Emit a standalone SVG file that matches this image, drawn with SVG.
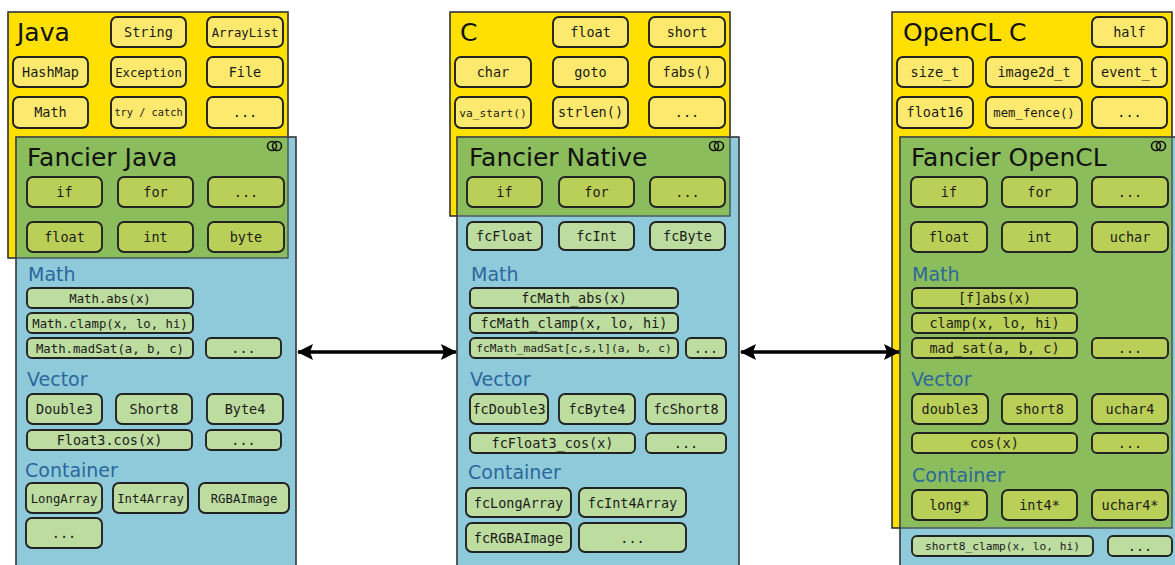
<svg xmlns="http://www.w3.org/2000/svg" width="1175" height="565" viewBox="0 0 1175 565">
  <defs>
    <style>
      .lang { fill: #ffe000; stroke: #3a3a3a; stroke-width: 1.2; }
      .fan { fill: #8fcadb; stroke: #3a4a50; stroke-width: 1.2; }
      .both { fill: #8bbd5c; }
      .edge { fill: none; stroke: #3a3a3a; stroke-width: 1.2; }
      .y rect { fill: #fde96d; }
      .g rect { fill: #bacf57; }
      .p rect { fill: #bddc9f; }
      .n rect { stroke: #222; stroke-width: 1.9; }
      .n text { font-family: "DejaVu Sans Mono", "Liberation Mono", monospace; font-size: 13.5px; fill: #1a1a1a; text-anchor: middle; }
      .n text.s1 { font-size: 12.3px; }
      .n text.s2 { font-size: 11.2px; }
      .n text.s3 { font-size: 10.3px; }
      .title { font-family: "DejaVu Sans", "Liberation Sans", sans-serif; font-size: 25px; fill: #111; }
      .sec { font-family: "DejaVu Sans", "Liberation Sans", sans-serif; font-size: 19px; fill: #2b679b; }
      .ring { fill: none; stroke: #111; stroke-width: 1.6; }
      .link { stroke: #000; stroke-width: 3.5; fill: none; }
    </style>
    <marker id="head" viewBox="0 0 16 16" refX="15" refY="8" markerWidth="16" markerHeight="16" markerUnits="userSpaceOnUse" orient="auto-start-reverse">
      <path d="M0,0 L16,8 L0,16 L3,8 Z" fill="#000"/>
    </marker>
  </defs>

  <!-- language panels, fancier panels and their overlap -->
  <g id="panels">
    <rect class="lang" x="8" y="12" width="280" height="246"/>
    <rect class="fan" x="16" y="137" width="280" height="440"/>
    <rect class="both" x="16.6" y="137.6" width="270.8" height="119.8"/>
    <rect class="edge" x="8" y="12" width="280" height="246"/>
    <rect class="edge" x="16" y="137" width="280" height="440"/>

    <rect class="lang" x="450" y="12" width="280" height="204"/>
    <rect class="fan" x="457" y="137" width="282" height="440"/>
    <rect class="both" x="457.6" y="137.6" width="271.8" height="77.8"/>
    <rect class="edge" x="450" y="12" width="280" height="204"/>
    <rect class="edge" x="457" y="137" width="282" height="440"/>

    <rect class="lang" x="892" y="12" width="280" height="516"/>
    <rect class="fan" x="900" y="137" width="290" height="440"/>
    <rect class="both" x="900.6" y="137.6" width="270.8" height="389.8"/>
    <rect class="edge" x="892" y="12" width="280" height="516"/>
    <rect class="edge" x="900" y="137" width="290" height="440"/>
  </g>

  <g id="titles">
    <text class="title" x="17" y="41">Java</text>
    <text class="title" x="27" y="166">Fancier Java</text>
    <text class="title" x="460" y="41">C</text>
    <text class="title" x="469" y="166">Fancier Native</text>
    <text class="title" x="903" y="41">OpenCL C</text>
    <text class="title" x="911" y="166">Fancier OpenCL</text>
    <text class="sec" x="28" y="281">Math</text>
    <text class="sec" x="27" y="386">Vector</text>
    <text class="sec" x="25" y="477">Container</text>
    <text class="sec" x="471" y="281">Math</text>
    <text class="sec" x="470" y="386">Vector</text>
    <text class="sec" x="468" y="479">Container</text>
    <text class="sec" x="912" y="281">Math</text>
    <text class="sec" x="911" y="386">Vector</text>
    <text class="sec" x="912" y="482">Container</text>
  </g>

  <g id="icons">
    <circle class="ring" cx="272" cy="146" r="4.5"/>
    <circle class="ring" cx="277" cy="146" r="4.5"/>
    <circle class="ring" cx="714" cy="146" r="4.5"/>
    <circle class="ring" cx="719" cy="146" r="4.5"/>
    <circle class="ring" cx="1156" cy="146" r="4.5"/>
    <circle class="ring" cx="1161" cy="146" r="4.5"/>
  </g>

  <!-- Java -->
  <g id="j-string" class="n y"><rect x="111" y="17" width="75" height="30" rx="6"/><text x="148.5" y="37">String</text></g>
  <g id="j-arraylist" class="n y"><rect x="207" y="17" width="76" height="30" rx="6"/><text class="s1" x="245" y="36.5">ArrayList</text></g>
  <g id="j-hashmap" class="n y"><rect x="13" y="57" width="75" height="30" rx="6"/><text x="50.5" y="77">HashMap</text></g>
  <g id="j-exception" class="n y"><rect x="111" y="57" width="75" height="30" rx="6"/><text class="s1" x="148.5" y="76.5">Exception</text></g>
  <g id="j-file" class="n y"><rect x="207" y="57" width="76" height="30" rx="6"/><text x="245" y="77">File</text></g>
  <g id="j-math" class="n y"><rect x="13" y="97" width="75" height="31" rx="6"/><text x="50.5" y="117">Math</text></g>
  <g id="j-trycatch" class="n y"><rect x="111" y="97" width="75" height="31" rx="6"/><text class="s3" x="148.5" y="116">try / catch</text></g>
  <g id="j-more" class="n y"><rect x="207" y="97" width="76" height="31" rx="6"/><text x="245" y="117">...</text></g>

  <g id="fj-if" class="n g"><rect x="27" y="177" width="75" height="30" rx="6"/><text x="64.5" y="197">if</text></g>
  <g id="fj-for" class="n g"><rect x="118" y="177" width="75" height="30" rx="6"/><text x="155.5" y="197">for</text></g>
  <g id="fj-more" class="n g"><rect x="208" y="177" width="76" height="30" rx="6"/><text x="246" y="197">...</text></g>
  <g id="fj-float" class="n g"><rect x="27" y="222" width="75" height="30" rx="6"/><text x="64.5" y="242">float</text></g>
  <g id="fj-int" class="n g"><rect x="118" y="222" width="75" height="30" rx="6"/><text x="155.5" y="242">int</text></g>
  <g id="fj-byte" class="n g"><rect x="208" y="222" width="76" height="30" rx="6"/><text x="246" y="242">byte</text></g>
  <g id="fj-abs" class="n p"><rect x="27" y="288" width="166" height="20" rx="5"/><text class="s1" x="110" y="302.5">Math.abs(x)</text></g>
  <g id="fj-clamp" class="n p"><rect x="27" y="313" width="166" height="20" rx="5"/><text class="s1" x="110" y="327.5">Math.clamp(x, lo, hi)</text></g>
  <g id="fj-madsat" class="n p"><rect x="27" y="338" width="166" height="20" rx="5"/><text class="s1" x="110" y="352.5">Math.madSat(a, b, c)</text></g>
  <g id="fj-math-more" class="n p"><rect x="206" y="338" width="75" height="20" rx="5"/><text x="243.5" y="352.5">...</text></g>
  <g id="fj-double3" class="n p"><rect x="27" y="394" width="75" height="30" rx="6"/><text x="64.5" y="414">Double3</text></g>
  <g id="fj-short8" class="n p"><rect x="116" y="394" width="76" height="30" rx="6"/><text x="154" y="414">Short8</text></g>
  <g id="fj-byte4" class="n p"><rect x="207" y="394" width="76" height="30" rx="6"/><text x="245" y="414">Byte4</text></g>
  <g id="fj-cos" class="n p"><rect x="27" y="430" width="165" height="20" rx="5"/><text x="109.5" y="444.5">Float3.cos(x)</text></g>
  <g id="fj-vec-more" class="n p"><rect x="206" y="430" width="75" height="20" rx="5"/><text x="243.5" y="444.5">...</text></g>
  <g id="fj-longarray" class="n p"><rect x="26" y="483" width="76" height="30" rx="6"/><text class="s1" x="64" y="502.5">LongArray</text></g>
  <g id="fj-int4array" class="n p"><rect x="113" y="483" width="75" height="30" rx="6"/><text class="s1" x="150.5" y="502.5">Int4Array</text></g>
  <g id="fj-rgbaimage" class="n p"><rect x="199" y="483" width="90" height="30" rx="6"/><text class="s1" x="244" y="502.5">RGBAImage</text></g>
  <g id="fj-cont-more" class="n p"><rect x="26" y="518" width="76" height="30" rx="6"/><text x="64" y="538">...</text></g>

  <!-- C -->
  <g id="c-float" class="n y"><rect x="553" y="17" width="75" height="30" rx="6"/><text x="590.5" y="37">float</text></g>
  <g id="c-short" class="n y"><rect x="649" y="17" width="76" height="30" rx="6"/><text x="687" y="37">short</text></g>
  <g id="c-char" class="n y"><rect x="455" y="57" width="76" height="30" rx="6"/><text x="493" y="77">char</text></g>
  <g id="c-goto" class="n y"><rect x="553" y="57" width="75" height="30" rx="6"/><text x="590.5" y="77">goto</text></g>
  <g id="c-fabs" class="n y"><rect x="649" y="57" width="76" height="30" rx="6"/><text x="687" y="77">fabs()</text></g>
  <g id="c-vastart" class="n y"><rect x="455" y="97" width="76" height="31" rx="6"/><text class="s2" x="493" y="116.5">va_start()</text></g>
  <g id="c-strlen" class="n y"><rect x="553" y="97" width="75" height="31" rx="6"/><text x="590.5" y="117">strlen()</text></g>
  <g id="c-more" class="n y"><rect x="649" y="97" width="76" height="31" rx="6"/><text x="687" y="117">...</text></g>

  <g id="fn-if" class="n g"><rect x="467" y="177" width="75" height="30" rx="6"/><text x="504.5" y="197">if</text></g>
  <g id="fn-for" class="n g"><rect x="559" y="177" width="75" height="30" rx="6"/><text x="596.5" y="197">for</text></g>
  <g id="fn-more" class="n g"><rect x="650" y="177" width="75" height="30" rx="6"/><text x="687.5" y="197">...</text></g>
  <g id="fn-float" class="n p"><rect x="467" y="222" width="75" height="28" rx="6"/><text x="504.5" y="241">fcFloat</text></g>
  <g id="fn-int" class="n p"><rect x="559" y="222" width="75" height="28" rx="6"/><text x="596.5" y="241">fcInt</text></g>
  <g id="fn-byte" class="n p"><rect x="650" y="222" width="75" height="28" rx="6"/><text x="687.5" y="241">fcByte</text></g>
  <g id="fn-abs" class="n p"><rect x="470" y="288" width="208" height="20" rx="5"/><text x="574" y="302.5">fcMath_abs(x)</text></g>
  <g id="fn-clamp" class="n p"><rect x="470" y="313" width="208" height="20" rx="5"/><text x="574" y="327.5">fcMath_clamp(x, lo, hi)</text></g>
  <g id="fn-madsat" class="n p"><rect x="470" y="338" width="208" height="20" rx="5"/><text class="s2" x="574" y="352">fcMath_madSat[c,s,l](a, b, c)</text></g>
  <g id="fn-math-more" class="n p"><rect x="686" y="338" width="40" height="20" rx="5"/><text x="706" y="352.5">...</text></g>
  <g id="fn-double3" class="n p"><rect x="470" y="394" width="78" height="30" rx="6"/><text x="509" y="414">fcDouble3</text></g>
  <g id="fn-byte4" class="n p"><rect x="559" y="394" width="76" height="30" rx="6"/><text x="597" y="414">fcByte4</text></g>
  <g id="fn-short8" class="n p"><rect x="646" y="394" width="80" height="30" rx="6"/><text x="686" y="414">fcShort8</text></g>
  <g id="fn-cos" class="n p"><rect x="470" y="433" width="165" height="20" rx="5"/><text x="552.5" y="447.5">fcFloat3_cos(x)</text></g>
  <g id="fn-vec-more" class="n p"><rect x="646" y="433" width="80" height="20" rx="5"/><text x="686" y="447.5">...</text></g>
  <g id="fn-longarray" class="n p"><rect x="466" y="488" width="105" height="29" rx="6"/><text x="518.5" y="507.5">fcLongArray</text></g>
  <g id="fn-int4array" class="n p"><rect x="579" y="488" width="107" height="29" rx="6"/><text x="632.5" y="507.5">fcInt4Array</text></g>
  <g id="fn-rgbaimage" class="n p"><rect x="466" y="523" width="105" height="29" rx="6"/><text x="518.5" y="542.5">fcRGBAImage</text></g>
  <g id="fn-cont-more" class="n p"><rect x="579" y="523" width="107" height="29" rx="6"/><text x="632.5" y="542.5">...</text></g>

  <!-- OpenCL C -->
  <g id="cl-half" class="n y"><rect x="1092" y="17" width="75" height="30" rx="6"/><text x="1129.5" y="37">half</text></g>
  <g id="cl-sizet" class="n y"><rect x="897" y="57" width="76" height="30" rx="6"/><text x="935" y="77">size_t</text></g>
  <g id="cl-image2d" class="n y"><rect x="986" y="57" width="96" height="30" rx="6"/><text x="1034" y="77">image2d_t</text></g>
  <g id="cl-eventt" class="n y"><rect x="1092" y="57" width="75" height="30" rx="6"/><text x="1129.5" y="77">event_t</text></g>
  <g id="cl-float16" class="n y"><rect x="897" y="97" width="76" height="31" rx="6"/><text x="935" y="117">float16</text></g>
  <g id="cl-memfence" class="n y"><rect x="986" y="97" width="96" height="31" rx="6"/><text class="s1" x="1034" y="116.5">mem_fence()</text></g>
  <g id="cl-more" class="n y"><rect x="1092" y="97" width="75" height="31" rx="6"/><text x="1129.5" y="117">...</text></g>

  <g id="fo-if" class="n g"><rect x="911" y="177" width="76" height="30" rx="6"/><text x="949" y="197">if</text></g>
  <g id="fo-for" class="n g"><rect x="1002" y="177" width="75" height="30" rx="6"/><text x="1039.5" y="197">for</text></g>
  <g id="fo-more" class="n g"><rect x="1092" y="177" width="76" height="30" rx="6"/><text x="1130" y="197">...</text></g>
  <g id="fo-float" class="n g"><rect x="911" y="222" width="76" height="30" rx="6"/><text x="949" y="242">float</text></g>
  <g id="fo-int" class="n g"><rect x="1002" y="222" width="75" height="30" rx="6"/><text x="1039.5" y="242">int</text></g>
  <g id="fo-uchar" class="n g"><rect x="1092" y="222" width="76" height="30" rx="6"/><text x="1130" y="242">uchar</text></g>
  <g id="fo-abs" class="n g"><rect x="912" y="288" width="165" height="20" rx="5"/><text x="994.5" y="302.5">[f]abs(x)</text></g>
  <g id="fo-clamp" class="n g"><rect x="912" y="313" width="165" height="20" rx="5"/><text x="994.5" y="327.5">clamp(x, lo, hi)</text></g>
  <g id="fo-madsat" class="n g"><rect x="912" y="338" width="165" height="20" rx="5"/><text x="994.5" y="352.5">mad_sat(a, b, c)</text></g>
  <g id="fo-math-more" class="n g"><rect x="1092" y="338" width="76" height="20" rx="5"/><text x="1130" y="352.5">...</text></g>
  <g id="fo-double3" class="n g"><rect x="912" y="394" width="76" height="30" rx="6"/><text x="950" y="414">double3</text></g>
  <g id="fo-short8" class="n g"><rect x="1002" y="394" width="75" height="30" rx="6"/><text x="1039.5" y="414">short8</text></g>
  <g id="fo-uchar4" class="n g"><rect x="1092" y="394" width="76" height="30" rx="6"/><text x="1130" y="414">uchar4</text></g>
  <g id="fo-cos" class="n g"><rect x="912" y="433" width="165" height="20" rx="5"/><text x="994.5" y="447.5">cos(x)</text></g>
  <g id="fo-vec-more" class="n g"><rect x="1092" y="433" width="76" height="20" rx="5"/><text x="1130" y="447.5">...</text></g>
  <g id="fo-long" class="n g"><rect x="912" y="490" width="75" height="30" rx="6"/><text x="949.5" y="510">long*</text></g>
  <g id="fo-int4" class="n g"><rect x="1002" y="490" width="75" height="30" rx="6"/><text x="1039.5" y="510">int4*</text></g>
  <g id="fo-uchar4p" class="n g"><rect x="1092" y="490" width="76" height="30" rx="6"/><text x="1130" y="510">uchar4*</text></g>
  <g id="fo-short8clamp" class="n p"><rect x="912" y="536" width="181" height="20" rx="5"/><text class="s2" x="1002.5" y="550">short8_clamp(x, lo, hi)</text></g>
  <g id="fo-extra-more" class="n p"><rect x="1108" y="536" width="64" height="20" rx="5"/><text x="1140" y="550.5">...</text></g>

  <!-- two-way links between the fancier layers -->
  <g id="connectors">
    <line class="link" x1="298" y1="352" x2="456" y2="352" marker-start="url(#head)" marker-end="url(#head)"/>
    <line class="link" x1="741" y1="352" x2="899" y2="352" marker-start="url(#head)" marker-end="url(#head)"/>
  </g>
</svg>
